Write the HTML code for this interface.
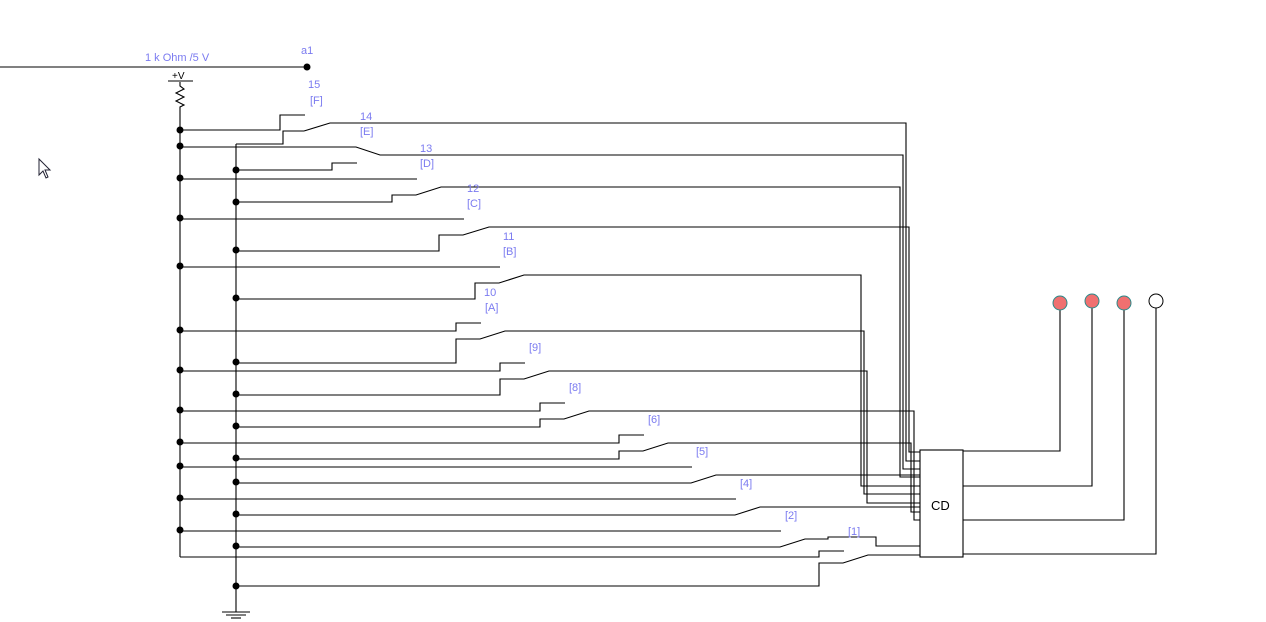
<!DOCTYPE html>
<html><head><meta charset="utf-8"><style>
html,body{margin:0;padding:0;background:#fff;width:1266px;height:622px;overflow:hidden}
svg{display:block}
text{font-family:"Liberation Sans",sans-serif;font-size:11px;fill:#7b7bf0}
</style></head><body>
<svg width="1266" height="622" viewBox="0 0 1266 622" xmlns="http://www.w3.org/2000/svg">
<g fill="none" stroke="#000" stroke-width="1.1">
<line x1="0" y1="67" x2="307" y2="67"/>
<line x1="168" y1="81" x2="193" y2="81"/>
<polyline points="180,82 180,86 184,89 176,93 184,97 176,101 184,105 180,107 180,557"/>
<polyline points="236,144 236,612"/>
<line x1="222" y1="612" x2="250" y2="612"/><line x1="226" y1="615" x2="246" y2="615"/><line x1="231" y1="618" x2="241" y2="618"/>
<polyline points="180,130 280,130 280,115 305,115"/>
<polyline points="236,144 283,144 283,131 304,131"/>
<polyline points="304,131 330,123 906,123 906,461 920,461"/>
<polyline points="180,147 356,147 380,155 903,155 903,469 920,469"/>
<polyline points="236,170 332,170 332,163 357,163"/>
<polyline points="180,179 417,179"/>
<polyline points="236,202 392,202 392,195 416,195 441,187 900,187 900,477 920,477"/>
<polyline points="180,219 464,219"/>
<polyline points="236,251 439,251 439,235 463,235 489,227 909,227 909,452 920,452"/>
<polyline points="180,267 500,267"/>
<polyline points="236,299 475,299 475,283 499,283 524,275 861,275 861,486 920,486"/>
<polyline points="180,331 456,331 456,323 481,323"/>
<polyline points="236,363 456,363 456,339 480,339 505,331 864,331 864,494 920,494"/>
<polyline points="180,371 500,371 500,363 525,363"/>
<polyline points="236,395 500,395 500,379 524,379 549,371 867,371 867,503 920,503"/>
<polyline points="180,411 540,411 540,403 565,403"/>
<polyline points="236,427 540,427 540,419 564,419 589,411 914,411 914,520 920,520"/>
<polyline points="180,443 619,443 619,435 644,435"/>
<polyline points="236,459 619,459 619,451 643,451 668,443 911,443 911,512 920,512"/>
<polyline points="180,467 692,467"/>
<polyline points="236,483 691,483 716,475 920,475"/>
<polyline points="180,499 736,499"/>
<polyline points="236,515 735,515 760,507 920,507"/>
<polyline points="180,531 781,531"/>
<polyline points="236,547 780,547 805,539 828,539 828,537 876,537 876,546 920,546"/>
<polyline points="180,557 819,557 819,551 844,551"/>
<polyline points="236,586 819,586 819,563 843,563 868,555 920,555"/>
<rect x="920" y="450" width="43" height="107"/>
<polyline points="963,451 1060,451 1060,303"/>
<polyline points="963,486 1092,486 1092,301"/>
<polyline points="963,520 1124,520 1124,303"/>
<polyline points="963,554 1156,554 1156,301"/>
</g>
<g fill="#000">
<circle cx="307" cy="67" r="3.5"/>
<circle cx="180" cy="130" r="3.5"/><circle cx="180" cy="146" r="3.5"/><circle cx="180" cy="178" r="3.5"/><circle cx="180" cy="218" r="3.5"/><circle cx="180" cy="266" r="3.5"/><circle cx="180" cy="330" r="3.5"/><circle cx="180" cy="370" r="3.5"/><circle cx="180" cy="410" r="3.5"/><circle cx="180" cy="442" r="3.5"/><circle cx="180" cy="466" r="3.5"/><circle cx="180" cy="498" r="3.5"/><circle cx="180" cy="530" r="3.5"/>
<circle cx="236" cy="170" r="3.5"/><circle cx="236" cy="202" r="3.5"/><circle cx="236" cy="250" r="3.5"/><circle cx="236" cy="298" r="3.5"/><circle cx="236" cy="362" r="3.5"/><circle cx="236" cy="394" r="3.5"/><circle cx="236" cy="426" r="3.5"/><circle cx="236" cy="458" r="3.5"/><circle cx="236" cy="482" r="3.5"/><circle cx="236" cy="514" r="3.5"/><circle cx="236" cy="546" r="3.5"/><circle cx="236" cy="586" r="3.5"/>
</g>
<circle cx="1060" cy="303" r="7" fill="#f07070" stroke="#2a8a8a" stroke-width="1"/>
<circle cx="1092" cy="301" r="7" fill="#f07070" stroke="#2a8a8a" stroke-width="1"/>
<circle cx="1124" cy="303" r="7" fill="#f07070" stroke="#2a8a8a" stroke-width="1"/>
<circle cx="1156" cy="301" r="7" fill="#fff" stroke="#000" stroke-width="1"/>
<path d="M39,159 L39,175 L43,171 L46,178 L48,177 L45,170 L50,170 Z" fill="#fff" stroke="#223" stroke-width="1"/>
<text x="145" y="61">1 k Ohm /5 V</text>
<text x="301" y="54">a1</text>
<text x="172" y="79" style="fill:#000;font-size:10px">+V</text>
<text x="308" y="88">15</text><text x="310" y="104">[F]</text>
<text x="360" y="120">14</text><text x="360" y="135">[E]</text>
<text x="420" y="152">13</text><text x="420" y="167">[D]</text>
<text x="467" y="192">12</text><text x="467" y="207">[C]</text>
<text x="503" y="240">11</text><text x="503" y="255">[B]</text>
<text x="484" y="296">10</text><text x="485" y="311">[A]</text>
<text x="529" y="351">[9]</text>
<text x="569" y="391">[8]</text>
<text x="648" y="423">[6]</text>
<text x="696" y="455">[5]</text>
<text x="740" y="487">[4]</text>
<text x="785" y="519">[2]</text>
<text x="848" y="535">[1]</text>
<text x="931" y="510" style="fill:#000;font-size:13px">CD</text>
</svg>
</body></html>
